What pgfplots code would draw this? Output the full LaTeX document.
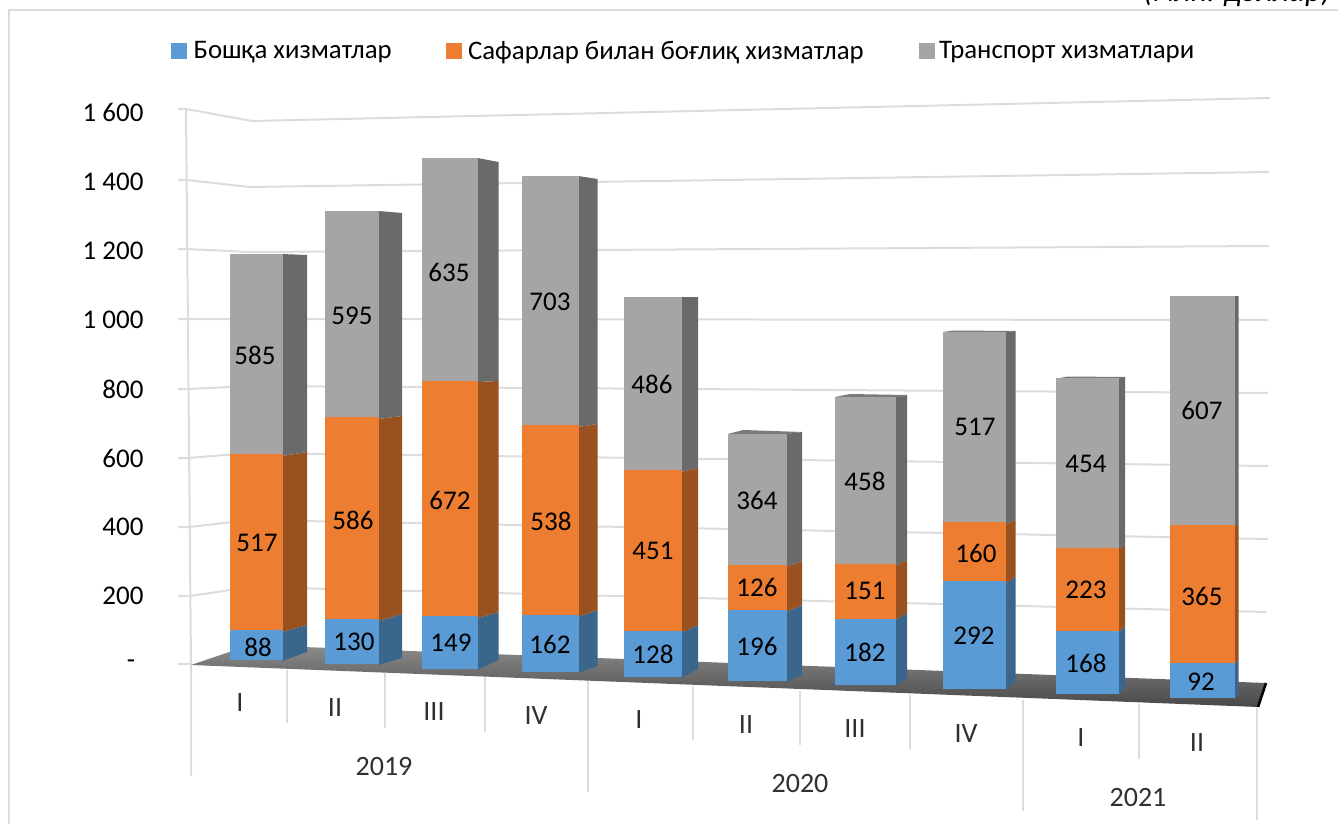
\documentclass[border=0pt]{standalone}
\usepackage{fontspec}
\setmainfont{Carlito}
\usepackage{pgfplots}
\usepackage{pgfplotstable}
\pgfplotsset{compat=1.18}
\definecolor{cO}{HTML}{5B9BD5}
\definecolor{cT}{HTML}{ED7D31}
\definecolor{cG}{HTML}{A5A5A5}
\definecolor{dO}{HTML}{3A668C}
\definecolor{dT}{HTML}{98511F}
\definecolor{dG}{HTML}{6A6A6A}
\definecolor{tG}{HTML}{7A7A7A}
\definecolor{gridc}{HTML}{DCDCDC}
\definecolor{axtxt}{HTML}{303030}
\newcommand{\fs}[1]{\fontsize{#1}{#1}\selectfont}
\pgfplotstableread{
x y label
258 647 88
354 642 130
451 643 149
550 644 162
653 654 128
757 646 196
865 652 182
974 636 292
1086 663 168
1201 682 92
257 543 517
353 520 586
450 500 672
551 521 538
653 551 451
757 587 126
865 591 151
976 553 160
1086 590 223
1202 596 365
255 355 585
352 316 595
449 272 635
550 302 703
652 384 486
757 500 364
865 481 458
975 427 517
1086 464 454
1202 410 607
}\labelsT
\pgfplotsset{frame/.style={scale only axis,width=1338pt,height=824pt,xmin=0,xmax=1338,ymin=0,ymax=824,y dir=reverse,at={(0pt,0pt)},anchor=south west,clip=false},
 seg/.style={/pgf/bar interval width=1,/pgf/bar interval shift=0.5,draw=none}}
\newcommand{\setx}[2]{\def\fx{#1}\def\sx{#2}}
\newcommand{\sides}[8]{%
\addplot[fill=dO,draw=none] coordinates {(\fx,#1) (\sx,#2) (\sx,#4) (\fx,#3)} -- cycle;
\addplot[fill=dT,draw=none] coordinates {(\fx,#3) (\sx,#4) (\sx,#6) (\fx,#5)} -- cycle;
\addplot[fill=dG,draw=none] coordinates {(\fx,#5) (\sx,#6) (\sx,#8) (\fx,#7)} -- cycle;
}
\newcommand{\sep}[3]{\addplot[gridc,line width=2pt] coordinates {(#1,#2) (#1,#3)};}
\newcommand{\xlab}[3]{\node[font=\fs{28},text=axtxt,inner sep=0pt] at (axis cs:#1,#2) {#3};}
% one stacked bar: left edge, right edge, base and scale in the perspective drawing, then the three values
\newcommand{\onebar}[7]{%
\begin{axis}[frame,hide axis,ybar interval,stack plots=y]
\addplot[seg,fill=none] coordinates {(#1,#3) (#2,#3)};
\addplot[seg,fill=cO] table[row sep=\\,x=x,y expr=-#4*\thisrow{v}] {x v\\ #1 #5\\ #2 #5\\};
\addplot[seg,fill=cT] table[row sep=\\,x=x,y expr=-#4*\thisrow{v}] {x v\\ #1 #6\\ #2 #6\\};
\addplot[seg,fill=cG] table[row sep=\\,x=x,y expr=-#4*\thisrow{v}] {x v\\ #1 #7\\ #2 #7\\};
\end{axis}}
\begin{document}
\begin{tikzpicture}
\useasboundingbox (0pt,0pt) rectangle (1338pt,824pt);
\begin{axis}[frame,axis line style={draw=none},tick style={draw=none},xtick=\empty,
  ytick={112,182,251,320,389,458,527,596},
  yticklabels={1 600,1 400,1 200,1 000,800,600,400,200},
  yticklabel style={anchor=east,xshift=147pt,font=\fs{27}},no markers]
% frame
\addplot[color=gridc,line width=2pt] coordinates {(9,824) (9,10) (1338,10)};
% walls
\addplot[gridc,line width=2pt] coordinates {(186,109) (191,665) (191,776)};
\addplot[gridc,line width=2pt] coordinates {(178,109) (186,109) (252,121) (1270,98)};
\addplot[gridc,line width=2pt] coordinates {(178,180) (187,180) (250,187) (1269,172)};
\addplot[gridc,line width=2pt] coordinates {(178,249) (187,249) (250,252) (1269,246)};
\addplot[gridc,line width=2pt] coordinates {(178,319) (187,319) (250,319) (1268,320)};
\addplot[gridc,line width=2pt] coordinates {(178,389) (188,389) (250,386) (1268,393)};
\addplot[gridc,line width=2pt] coordinates {(178,458) (188,458) (250,453) (1268,466)};
\addplot[gridc,line width=2pt] coordinates {(178,527) (189,527) (250,520) (1268,539)};
\addplot[gridc,line width=2pt] coordinates {(178,596) (190,596) (250,587) (1266,612)};
\addplot[gridc,line width=2pt] coordinates {(178,664) (191,664)};
\node[font=\fs{27},inner sep=0pt] at (axis cs:131,664) {-};
% floor
\addplot[draw=none,top color=black!45,bottom color=black!72] coordinates {(191,665) (250,645) (1266,683) (1258,707)} -- cycle;
\addplot[black,line width=2.5pt] coordinates {(1266,683) (1258,707)};
% category separators
\sep{287}{670}{723}\sep{385}{673}{728}\sep{485}{677}{732}\sep{588}{681}{792}
\sep{693}{686}{740}\sep{800}{691}{745}\sep{910}{695}{749}\sep{1023}{700}{811}
\sep{1139}{704}{759}\sep{1257}{708}{820}
% top faces
\addplot[fill=tG,draw=none] coordinates {(728,434) (743,430) (802,432) (787,434)} -- cycle;
\addplot[fill=tG,draw=none] coordinates {(835,397) (850,394) (907,395) (896,397)} -- cycle;
\addplot[fill=tG,draw=none] coordinates {(943,332) (953,330.5) (1016,331) (1006,332)} -- cycle;
\addplot[fill=tG,draw=none] coordinates {(1056,379) (1067,376.5) (1126,377) (1119,379)} -- cycle;
% side faces of the bars
\setx{282}{307}\sides{661}{652}{632}{625}{456}{452}{254}{255}
\setx{378.5}{402}\sides{665}{658}{621}{614}{419}{416}{211}{213}
\setx{477.5}{498.5}\sides{670}{660}{618}{612}{382}{381}{158}{162}
\setx{578}{597.5}\sides{673}{666}{617}{610}{427}{424}{176}{179}
\setx{681}{698}\sides{678}{669}{633}{625}{472}{468}{297}{297}
\setx{786}{802}\sides{682}{675}{612}{605}{567}{561}{434}{432}
\setx{895}{907}\sides{686}{679}{620}{613}{566}{560}{397}{395}
\setx{1005}{1015.5}\sides{690}{681}{584}{577}{525}{520}{332}{331}
\setx{1118}{1125}\sides{695}{688}{633}{626}{550}{545}{379}{377}
\setx{1234}{1238.5}\sides{699}{695}{665}{659}{528}{523}{296}{296}
\end{axis}
% front faces of the bars
\onebar{230}{283}{660}{.3412}{88}{517}{585}
\onebar{325}{379}{664}{.3455}{130}{586}{595}
\onebar{422}{478}{668.5}{.3503}{149}{672}{635}
\onebar{522}{578.5}{672}{.3532}{162}{538}{703}
\onebar{623.5}{682}{676.5}{.3563}{128}{451}{486}
\onebar{728}{787}{680.5}{.3593}{196}{126}{364}
\onebar{835}{896}{685}{.3641}{182}{151}{458}
\onebar{943}{1006}{689}{.3689}{292}{160}{517}
\onebar{1056}{1119}{693.5}{.3728}{168}{223}{454}
\onebar{1170}{1235}{698}{.3778}{92}{365}{607}
% labels and legend
\begin{axis}[frame,hide axis,
  legend columns=3,
  legend style={at={(axis cs:171,51)},anchor=west,draw=none,fill=none,inner sep=0pt,
    font=\fs{26.8},/tikz/column 1/.style={column sep=5pt},/tikz/column 2/.style={column sep=52pt},
    /tikz/column 3/.style={column sep=5pt},/tikz/column 4/.style={column sep=53pt},/tikz/column 5/.style={column sep=3pt}},
  legend image code/.code={\fill[#1] (0pt,-7.5pt) rectangle (15pt,7.5pt);}]
\addlegendimage{cO}\addlegendentry{Бошқа хизматлар}
\addlegendimage{cT}\addlegendentry{Сафарлар билан боғлиқ хизматлар}
\addlegendimage{cG}\addlegendentry{Транспорт хизматлари}
\addplot[draw=none,mark=none,nodes near coords={\pgfplotspointmeta},point meta=explicit symbolic,
  every node near coord/.style={anchor=center,inner sep=0pt,font=\fs{27},text=black}]
  table[x=x,y=y,meta=label] {\labelsT};
\xlab{240}{703}{I}\xlab{335}{708}{II}\xlab{434}{712}{III}\xlab{536}{716}{IV}
\xlab{639}{720}{I}\xlab{746}{725}{II}\xlab{855}{729}{III}\xlab{966}{734}{IV}
\xlab{1081}{738}{I}\xlab{1197}{743}{II}
\xlab{384}{767}{2019}\xlab{800}{784}{2020}\xlab{1138}{798}{2021}
\node[anchor=base east,inner sep=0pt,font=\itshape\fs{31.5},text=black] at (axis cs:1331,2) {(млн. доллар)};
\end{axis}
\end{tikzpicture}
\end{document}
